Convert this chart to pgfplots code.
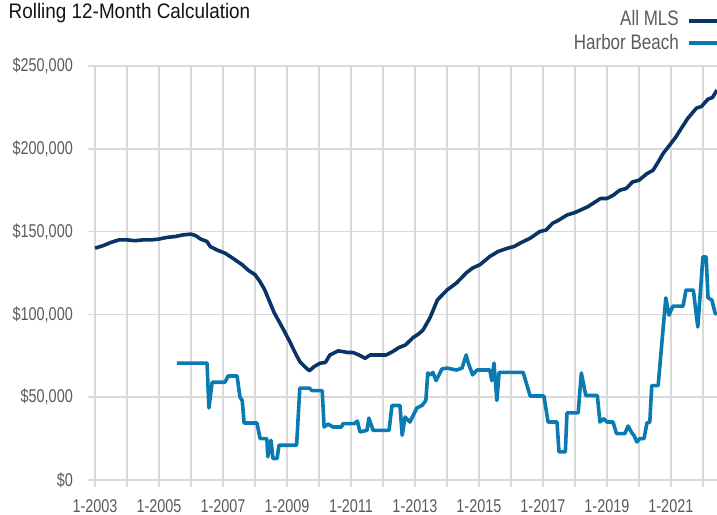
\documentclass[border=0pt]{standalone}
\usepackage{fontspec}
\setmainfont{Liberation Sans}[FakeStretch=0.81]
\newfontfamily\titlefont{Liberation Sans}[FakeStretch=0.9]
\newfontfamily\tickfont{Liberation Sans}[FakeStretch=0.78]
\usepackage{pgfplots}
\pgfplotsset{compat=1.18}
\definecolor{mls}{HTML}{0B3466}
\definecolor{hb}{HTML}{0A7BB2}
\definecolor{gridc}{HTML}{D9D9D9}
\definecolor{tickc}{HTML}{5A5A5A}
\begin{document}
\begin{tikzpicture}
\path[use as bounding box] (0,0) rectangle (717bp,515bp);
\node[anchor=base west, inner sep=0pt, text=black!92] at (8.5bp,496bp) {\titlefont\fontsize{21bp}{23bp}\selectfont Rolling 12-Month Calculation};
\node[anchor=base east, inner sep=0pt, text=tickc] at (679bp,489bp) {\fontsize{21bp}{23bp}\selectfont All MLS};
\node[anchor=base east, inner sep=0pt, text=tickc] at (679bp,465bp) {\fontsize{21bp}{23bp}\selectfont Harbor Beach};
\draw[mls, line width=3.6bp] (689bp,494bp) -- (717bp,494bp);
\draw[hb, line width=3.6bp] (689bp,472bp) -- (717bp,472bp);
\begin{axis}[
  at={(88bp,35bp)}, anchor=south west,
  scale only axis, width=629bp, height=414bp,
  xmin=2002.78, xmax=2022.44, ymin=0, ymax=250000,
  axis x line*=bottom, axis y line*=left,
  x axis line style={draw=gridc, line width=2bp},
  y axis line style={draw=none},
  xtick={2003,...,2022},
  xticklabels={1-2003,,1-2005,,1-2007,,1-2009,,1-2011,,1-2013,,1-2015,,1-2017,,1-2019,,1-2021,},
  ytick={0,50000,100000,150000,200000,250000},
  yticklabels={\$0,{\$50,000},{\$100,000},{\$150,000},{\$200,000},{\$250,000}},
  scaled y ticks=false,
  grid=major,
  major grid style={draw=gridc, line width=1.5bp},
  tick align=outside,
  major tick length=7bp,
  xtick style={draw=gridc, line width=1.5bp},
  ytick style={draw=none},
  tick label style={text=tickc, font=\tickfont\fontsize{18.5bp}{20bp}\selectfont},
  xticklabel style={inner sep=0pt, anchor=north, yshift=-12bp},
  yticklabel style={inner sep=0pt, anchor=east, xshift=-8bp},
]
\addplot[mls, line width=3.6bp, line join=round] table {
2003.0 140000
2003.25 141500
2003.5 143500
2003.75 145000
2004.0 145000
2004.25 144500
2004.5 145000
2004.75 145000
2005.0 145500
2005.25 146500
2005.5 147000
2005.75 148000
2006.0 148500
2006.15 147500
2006.3 145500
2006.5 144000
2006.6 141000
2006.8 139000
2007.06 137000
2007.3 134000
2007.6 130000
2007.8 126500
2008.0 124000
2008.15 120000
2008.3 115000
2008.45 108000
2008.6 101000
2008.8 94000
2008.94 89000
2009.1 83000
2009.25 77000
2009.4 71500
2009.55 68500
2009.7 66000
2009.85 68500
2010.03 70500
2010.2 71000
2010.34 75500
2010.6 78000
2010.9 77000
2011.06 77000
2011.25 75500
2011.44 73500
2011.6 75500
2012.1 75500
2012.3 77500
2012.5 80000
2012.7 81500
2012.94 86000
2013.1 88000
2013.25 90500
2013.47 98000
2013.7 108700
2014.0 114700
2014.3 119000
2014.6 125000
2014.8 128000
2015.03 130000
2015.34 135000
2015.6 138000
2015.9 140000
2016.1 141000
2016.28 143000
2016.6 146000
2016.9 150000
2017.1 151000
2017.3 155000
2017.5 157000
2017.75 160000
2018.0 161500
2018.4 165000
2018.8 170000
2019.0 170000
2019.2 172000
2019.4 175000
2019.6 176000
2019.8 180000
2020.0 181000
2020.25 185000
2020.44 187000
2020.6 192000
2020.75 197000
2021.03 204000
2021.15 207000
2021.28 211000
2021.53 218500
2021.8 224600
2021.95 225500
2022.16 230000
2022.3 231000
2022.44 235500
};
\addplot[hb, line width=3.6bp, line join=round] table {
2005.56 70600
2006.5 70600
2006.56 43500
2006.66 59000
2007.06 59000
2007.16 62800
2007.44 62800
2007.53 50000
2007.6 48000
2007.66 34400
2008.06 34400
2008.16 25000
2008.37 25000
2008.4 14000
2008.5 24000
2008.56 13000
2008.69 13000
2008.75 21000
2009.3 21000
2009.4 55500
2009.7 55500
2009.78 54000
2010.1 54000
2010.16 32000
2010.28 33800
2010.44 32000
2010.7 32000
2010.75 34000
2011.1 34000
2011.2 35600
2011.28 29000
2011.5 30000
2011.56 37400
2011.69 30000
2012.19 30000
2012.28 45000
2012.53 45000
2012.6 27000
2012.69 38000
2012.84 35000
2013.06 43500
2013.22 45000
2013.34 48000
2013.4 64600
2013.5 63500
2013.56 65000
2013.66 60000
2013.84 67000
2014.0 67600
2014.3 66400
2014.47 67600
2014.6 75500
2014.66 71000
2014.8 63500
2014.94 66400
2015.34 66400
2015.4 60000
2015.47 70600
2015.56 48000
2015.63 65000
2016.38 65000
2016.6 50700
2017.03 50700
2017.16 35000
2017.44 35000
2017.5 17000
2017.7 17000
2017.75 40500
2018.1 40500
2018.2 64600
2018.34 51000
2018.7 51000
2018.78 35000
2018.9 37000
2019.0 35000
2019.19 35000
2019.3 28000
2019.56 28000
2019.66 32600
2019.78 28400
2019.84 27000
2019.94 23000
2020.03 25000
2020.16 25000
2020.25 34400
2020.34 35000
2020.4 57000
2020.6 57000
2020.84 110000
2020.94 99600
2021.06 105000
2021.38 105000
2021.47 114700
2021.7 114700
2021.84 92400
2022.0 134700
2022.1 134700
2022.16 110000
2022.28 108700
2022.38 100800
2022.44 100000
};
\end{axis}
\end{tikzpicture}
\end{document}
